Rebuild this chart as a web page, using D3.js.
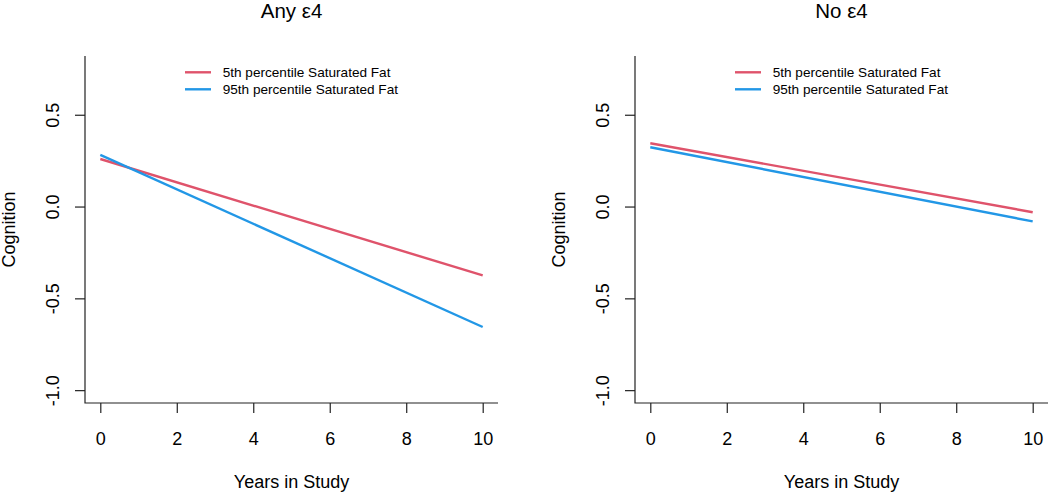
<!DOCTYPE html>
<html>
<head>
<meta charset="utf-8">
<script src="https://cdn.jsdelivr.net/npm/d3@7"></script>
<style>
  body { margin: 0; background: #fff; }
  text { font-family: "Liberation Sans", Arial, sans-serif; fill: #000; }
</style>
</head>
<body>
<div id="chart"></div>
<script>
// data
var years = [0, 10]
var panelTitles = ['Any ε4', 'No ε4']
var seriesNames = ['5th percentile Saturated Fat', '95th percentile Saturated Fat']
var seriesColors = ['#DF536B', '#2297E6']
var anyE4 = [[0.259, -0.375], [0.281, -0.656]]
var noE4 = [[0.345, -0.031], [0.323, -0.081]]
var xTicks = [0, 2, 4, 6, 8, 10]
var yTicks = [-1.0, -0.5, 0.0, 0.5]

var panels = [anyE4, noE4]

var svg = d3.select('#chart')
            .append('svg')
            .attr('width', 1050)
            .attr('height', 492)

var y = d3.scaleLinear().domain([-1.07, 0.82]).range([403, 56])

for (var p = 0; p < panels.length; p++) {
  var off = p * 550
  var x = d3.scaleLinear().domain([-0.4, 10.4]).range([85 + off, 498 + off])
  var g = svg.append('g')

  // L-shaped box
  g.append('path')
   .attr('d', 'M' + x.range()[0] + ',' + y.range()[1] + 'V' + y.range()[0] + 'H' + x.range()[1])
   .attr('fill', 'none')
   .attr('stroke', '#222')
   .attr('stroke-width', 1.2)

  var xAxis = g.append('g')
   .attr('transform', 'translate(0,' + y.range()[0] + ')')
   .call(d3.axisBottom(x).tickValues(xTicks).tickSize(10).tickSizeOuter(0).tickPadding(20)
          .tickFormat(d3.format('d')))
  xAxis.select('.domain').remove()
  xAxis.selectAll('line').attr('stroke', '#222').attr('stroke-width', 1.2)
  xAxis.selectAll('text').style('font-size', '18px').attr('dy', null).attr('y', 42)

  var yAxis = g.append('g')
   .attr('transform', 'translate(' + x.range()[0] + ',0)')
   .call(d3.axisLeft(y).tickValues(yTicks).tickSize(10).tickSizeOuter(0).tickFormat(d3.format('.1f')))
  yAxis.select('.domain').remove()
  yAxis.selectAll('line').attr('stroke', '#222').attr('stroke-width', 1.2)
  yAxis.selectAll('text')
   .style('font-size', '18px')
   .attr('x', null).attr('dy', null)
   .attr('text-anchor', 'middle')
   .attr('transform', 'translate(-26,0) rotate(-90)')
   .text(function(d) { return d3.format('.1f')(d).replace('−', '-') })

  // titles
  g.append('text')
   .attr('x', (x.range()[0] + x.range()[1]) / 2)
   .attr('y', 18)
   .attr('text-anchor', 'middle')
   .style('font-size', '20.5px')
   .text(panelTitles[p])

  g.append('text')
   .attr('x', (x.range()[0] + x.range()[1]) / 2)
   .attr('y', 488)
   .attr('text-anchor', 'middle')
   .style('font-size', '18px')
   .text('Years in Study')

  g.append('text')
   .attr('transform', 'translate(' + (14.5 + off) + ',' + ((y.range()[0] + y.range()[1]) / 2) + ') rotate(-90)')
   .attr('text-anchor', 'middle')
   .style('font-size', '18px')
   .text('Cognition')

  // lines
  var line = d3.line().x(function(d, i) { return x(years[i]) }).y(function(d) { return y(d) })
  for (var s = 0; s < panels[p].length; s++) {
    g.append('path')
     .attr('d', line(panels[p][s]))
     .attr('fill', 'none')
     .attr('stroke', seriesColors[s])
     .attr('stroke-width', 2.4)
  }

  // legend
  for (var s = 0; s < seriesNames.length; s++) {
    var ly = 72.3 + s * 17
    g.append('line')
     .attr('x1', 185 + off).attr('x2', 211 + off)
     .attr('y1', ly).attr('y2', ly)
     .attr('stroke', seriesColors[s])
     .attr('stroke-width', 2.4)
    g.append('text')
     .attr('x', 222.7 + off)
     .attr('y', ly)
     .attr('dy', '0.35em')
     .style('font-size', '13.6px')
     .text(seriesNames[s])
  }
}
</script>
</body>
</html>
